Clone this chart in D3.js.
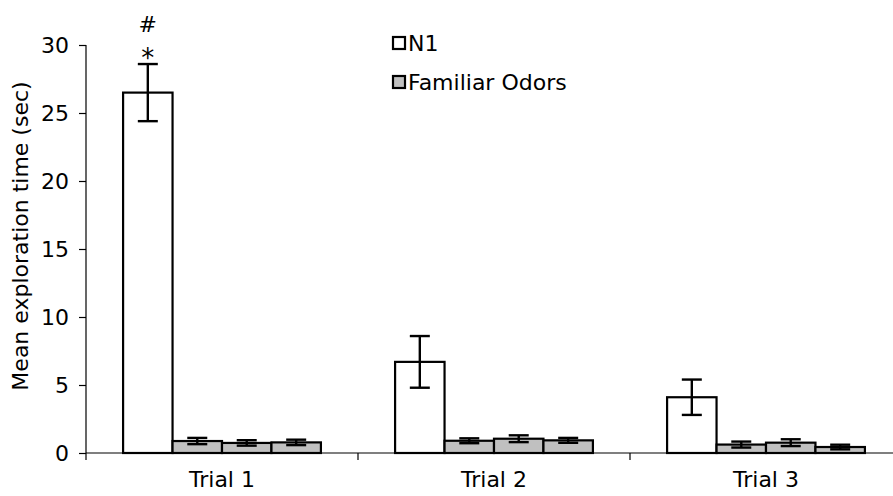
<!DOCTYPE html>
<html>
<head>
<meta charset="utf-8">
<script src="https://cdn.jsdelivr.net/npm/d3@7"></script>
<style>
  html, body { margin: 0; padding: 0; background: #fff; }
  svg { display: block; }
  text { font-family: "DejaVu Sans", Verdana, sans-serif; fill: #000; }
</style>
</head>
<body>
<svg id="chart" width="893" height="496"></svg>
<script>
// Trials along the x axis
const trials = ["Trial 1", "Trial 2", "Trial 3"];

// Novel odor (N1) exploration time, mean and SEM per trial
const n1Values = [26.5, 6.7, 4.1];
const n1Errors = [2.1, 1.9, 1.3];

// Three familiar odors, mean and SEM per trial
const familiarValues = [
  [0.88, 0.74, 0.78],
  [0.90, 1.05, 0.93],
  [0.62, 0.76, 0.44]
];
const familiarErrors = [
  [0.23, 0.20, 0.20],
  [0.18, 0.25, 0.18],
  [0.22, 0.25, 0.17]
];

const yTicks = [0, 5, 10, 15, 20, 25, 30];
const legendLabels = ["N1", "Familiar Odors"];
const significanceMarks = ["*", "#"];

const svg = d3.select("#chart");
const W = 893, H = 496;
const plot = { left: 86, right: 902, top: 45, bottom: 453 };
const fontSize = "22px";

const x = d3.scaleBand().domain(trials).range([plot.left, plot.right]).padding(0);
const slots = ["N1", "F1", "F2", "F3"];
// 150% gap between groups: band = 4 bars + 1.5 bar
const barW = x.bandwidth() / 5.5;
const xInner = d3.scaleBand().domain(slots)
  .range([barW * 0.75, barW * 0.75 + barW * 4]).padding(0);

const y = d3.scaleLinear().domain([0, 30]).range([plot.bottom, plot.top]);

// Flatten into drawable records
const bars = [];
trials.forEach((t, i) => {
  bars.push({ trial: t, slot: "N1", value: n1Values[i], err: n1Errors[i], fill: "#ffffff" });
  familiarValues[i].forEach((v, j) => {
    bars.push({ trial: t, slot: "F" + (j + 1), value: v, err: familiarErrors[i][j], fill: "#c0c0c0" });
  });
});

// Y axis
const yAxis = d3.axisLeft(y).tickValues(yTicks).tickSize(7).tickPadding(10);
const gy = svg.append("g").attr("transform", `translate(${plot.left},0)`).call(yAxis);
gy.select(".domain").attr("stroke", "#000").attr("stroke-width", 1.2)
  .attr("d", `M0,${plot.top}V${plot.bottom + 7}`);
gy.selectAll(".tick line").attr("stroke", "#000").attr("stroke-width", 1.2);
gy.selectAll(".tick text").style("font-size", fontSize).attr("font-family", null);

// X axis with ticks at category boundaries
const gx = svg.append("g").attr("transform", `translate(0,${plot.bottom})`);
gx.append("line").attr("x1", plot.left).attr("x2", W).attr("y1", 0).attr("y2", 0)
  .attr("stroke", "#000").attr("stroke-width", 1.2);
gx.selectAll("line.bound").data(trials.slice(1)).join("line")
  .attr("class", "bound")
  .attr("x1", d => x(d)).attr("x2", d => x(d))
  .attr("y1", 0).attr("y2", 7)
  .attr("stroke", "#000").attr("stroke-width", 1.2);
gx.selectAll("text").data(trials).join("text")
  .attr("x", d => x(d) + x.bandwidth() / 2)
  .attr("y", 26)
  .attr("dy", "0.35em")
  .attr("text-anchor", "middle")
  .style("font-size", fontSize)
  .text(d => d);

// Bars
svg.append("g").selectAll("rect").data(bars).join("rect")
  .attr("x", d => x(d.trial) + xInner(d.slot))
  .attr("width", xInner.bandwidth())
  .attr("y", d => y(d.value))
  .attr("height", d => y(0) - y(d.value))
  .attr("fill", d => d.fill)
  .attr("stroke", "#000")
  .attr("stroke-width", 2.2);

// Error bars
const capHalf = 10;
const eg = svg.append("g").attr("stroke", "#000").attr("stroke-width", 2.4);
bars.forEach(d => {
  const cx = x(d.trial) + xInner(d.slot) + xInner.bandwidth() / 2;
  const yHi = y(d.value + d.err), yLo = y(d.value - d.err);
  eg.append("line").attr("x1", cx).attr("x2", cx).attr("y1", yHi).attr("y2", yLo);
  eg.append("line").attr("x1", cx - capHalf).attr("x2", cx + capHalf).attr("y1", yHi).attr("y2", yHi);
  eg.append("line").attr("x1", cx - capHalf).attr("x2", cx + capHalf).attr("y1", yLo).attr("y2", yLo);
});

// Significance marks above Trial 1 N1
const sigX = x(trials[0]) + xInner("N1") + xInner.bandwidth() / 2;
const sigTop = y(n1Values[0] + n1Errors[0]);
svg.append("text").attr("x", sigX).attr("y", sigTop + 3)
  .attr("text-anchor", "middle").style("font-size", "26px").text(significanceMarks[0]);
svg.append("text").attr("x", sigX).attr("y", sigTop - 32)
  .attr("text-anchor", "middle").style("font-size", fontSize).text(significanceMarks[1]);

// Y axis title
svg.append("text")
  .attr("transform", `translate(20,236) rotate(-90)`)
  .attr("text-anchor", "middle")
  .attr("dy", "0.35em")
  .style("font-size", fontSize)
  .text("Mean exploration time (sec)");

// Legend
const lg = svg.append("g").attr("transform", "translate(393,0)");
const legendFills = ["#ffffff", "#c0c0c0"];
legendLabels.forEach((lab, i) => {
  const cy = 43 + i * 39;
  lg.append("rect").attr("x", 0).attr("y", cy - 6).attr("width", 12).attr("height", 12)
    .attr("fill", legendFills[i]).attr("stroke", "#000").attr("stroke-width", 2.2);
  lg.append("text").attr("x", 15).attr("y", cy).attr("dy", "0.35em")
    .style("font-size", fontSize).text(lab);
});
</script>
</body>
</html>
